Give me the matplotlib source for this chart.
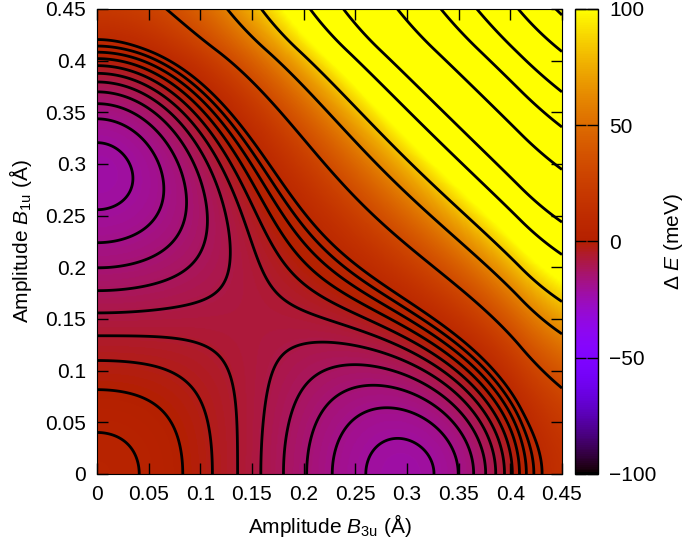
import numpy as np
import matplotlib
matplotlib.use("Agg")
import matplotlib.pyplot as plt

# Landau-type model of the energy surface, dE in meV, amplitudes in Angstrom
e_origin = 4.0         # energy at zero amplitude
well_depth = 26.3      # depth of each well below the origin
well_b3u = 0.295       # position of the minimum along B3u
well_b1u = 0.290       # position of the minimum along B1u
wall_top = 0.41        # amplitude where the single-mode wall levels off
wall_soft = 5600.0     # strength of that levelling off
coupling = 9150.0      # strength of the B3u-B1u coupling
coupling_exp = -0.32   # radial damping of the coupling

# contour levels (meV)
fine_levels = [-21, -18, -15, -12, -9, -6, -3, 0, 3, 6, 9]
coarse_levels = [32, 60, 83, 125, 160, 228, 294, 357, 440, 520, 610]

amp_ticks = [0, 0.05, 0.1, 0.15, 0.2, 0.25, 0.3, 0.35, 0.4, 0.45]
amp_labels = ["0", "0.05", "0.1", "0.15", "0.2", "0.25", "0.3", "0.35", "0.4", "0.45"]
cbar_ticks = [-100, -50, 0, 50, 100]
cbar_labels = ["\u2212100", "\u221250", "0", "50", "100"]


def single_mode(u, well):
    w = u / well
    e = -well_depth * (2 * w**2 - w**4)
    e = e - wall_soft * np.maximum(u - wall_top, 0)**2
    return e


def energy(a, b):
    e = e_origin + single_mode(a, well_b3u) + single_mode(b, well_b1u)
    r2 = np.maximum(a**2 + b**2, 1e-12)
    e = e + coupling * a**2 * b**2 * r2**coupling_exp
    return e


plt.rcParams['font.family'] = ['Liberation Sans', 'DejaVu Sans']
plt.rcParams['mathtext.fontset'] = 'custom'
plt.rcParams['mathtext.rm'] = 'Liberation Sans'
plt.rcParams['mathtext.it'] = 'Liberation Sans:italic'
plt.rcParams['font.size'] = 15

amp = np.linspace(0, 0.45, 451)
A, B = np.meshgrid(amp, amp)
E = energy(A, B)

fig = plt.figure(figsize=(6.85, 5.43), dpi=100)
ax = fig.add_axes([0.1416, 0.1271, 0.6788, 0.8564])
cax = fig.add_axes([0.8394, 0.1271, 0.0336, 0.8564])

im = ax.imshow(E, extent=[0, 0.45, 0, 0.45], origin='lower', cmap='gnuplot',
               vmin=-100, vmax=100, aspect='auto', interpolation='bilinear')
ax.contour(A, B, E, levels=fine_levels + coarse_levels, colors='black',
           linewidths=2, linestyles='solid')

ax.set_xlim(0, 0.45)
ax.set_ylim(0, 0.45)
ax.set_xticks(amp_ticks)
ax.set_xticklabels(amp_labels)
ax.set_yticks(amp_ticks)
ax.set_yticklabels(amp_labels)
ax.tick_params(direction='in', length=8, width=1, top=True, right=True, pad=8)
ax.set_xlabel(r"Amplitude $B_{\rm 3u}$ (Å)", labelpad=6)
ax.set_ylabel(r"Amplitude $B_{\rm 1u}$ (Å)", labelpad=8)

cb = fig.colorbar(im, cax=cax)
cb.set_ticks(cbar_ticks)
cb.set_ticklabels(cbar_labels)
cb.outline.set_linewidth(1)
cax.tick_params(direction='in', length=8, width=1, left=True, right=True, pad=8)
cb.set_label(r"Δ $E$ (meV)", labelpad=4)

fig.savefig("out.png", dpi=100)
